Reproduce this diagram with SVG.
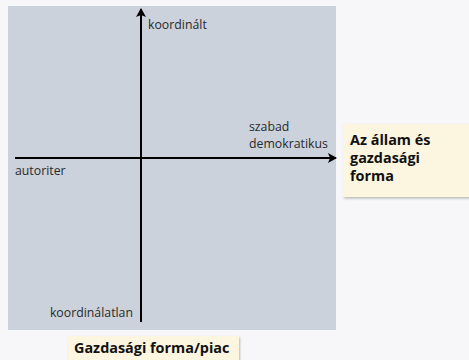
<svg xmlns="http://www.w3.org/2000/svg" width="469" height="360" viewBox="0 0 469 360">
<defs>
<style>
.lbl{font-family:"Open Sans","Noto Sans",sans-serif;font-size:12.3px;fill:#2a2a2a}
.ttl{font-family:"Open Sans","Noto Sans",sans-serif;font-size:14.4px;font-weight:bold;fill:#111}
.ax{stroke:#000;stroke-width:2;fill:none}
.box{fill:#fcf5df}
</style>
<marker id="ah" markerWidth="10" markerHeight="10" refX="8" refY="5" orient="auto" markerUnits="userSpaceOnUse">
<path d="M0,0 L9,5 L0,10 L2,5 Z" fill="#000"/>
</marker>
<filter id="sh" x="-10%" y="-10%" width="130%" height="140%">
<feDropShadow dx="1" dy="1.5" stdDeviation="1.2" flood-color="#000" flood-opacity="0.25"/>
</filter>
</defs>
<rect width="469" height="360" fill="#f7f7f9"/>
<g id="plane">
<rect x="8" y="6" width="328" height="324" fill="#cbd2dc"/>
</g>
<g id="connectors">
<line class="ax" x1="141" y1="322" x2="141" y2="9" marker-end="url(#ah)"/>
<line class="ax" x1="15" y1="158" x2="336" y2="158" marker-end="url(#ah)"/>
</g>
<g id="label-koordinalt"><text class="lbl" x="148" y="29">koordinált</text></g>
<g id="label-szabad"><text class="lbl" x="249" y="131">szabad</text><text class="lbl" x="249" y="148">demokratikus</text></g>
<g id="label-autoriter"><text class="lbl" x="15" y="175">autoriter</text></g>
<g id="label-koordinalatlan"><text class="lbl" x="133" y="317" text-anchor="end">koordinálatlan</text></g>
<g id="title-allam">
<rect class="box" x="343" y="124" width="130" height="73" filter="url(#sh)"/>
<text class="ttl" x="350" y="145">Az állam és</text>
<text class="ttl" x="350" y="163">gazdasági</text>
<text class="ttl" x="350" y="181">forma</text>
</g>
<g id="title-piac">
<rect class="box" x="68" y="336" width="171" height="28" filter="url(#sh)"/>
<text class="ttl" x="74" y="353">Gazdasági forma/piac</text>
</g>
</svg>
